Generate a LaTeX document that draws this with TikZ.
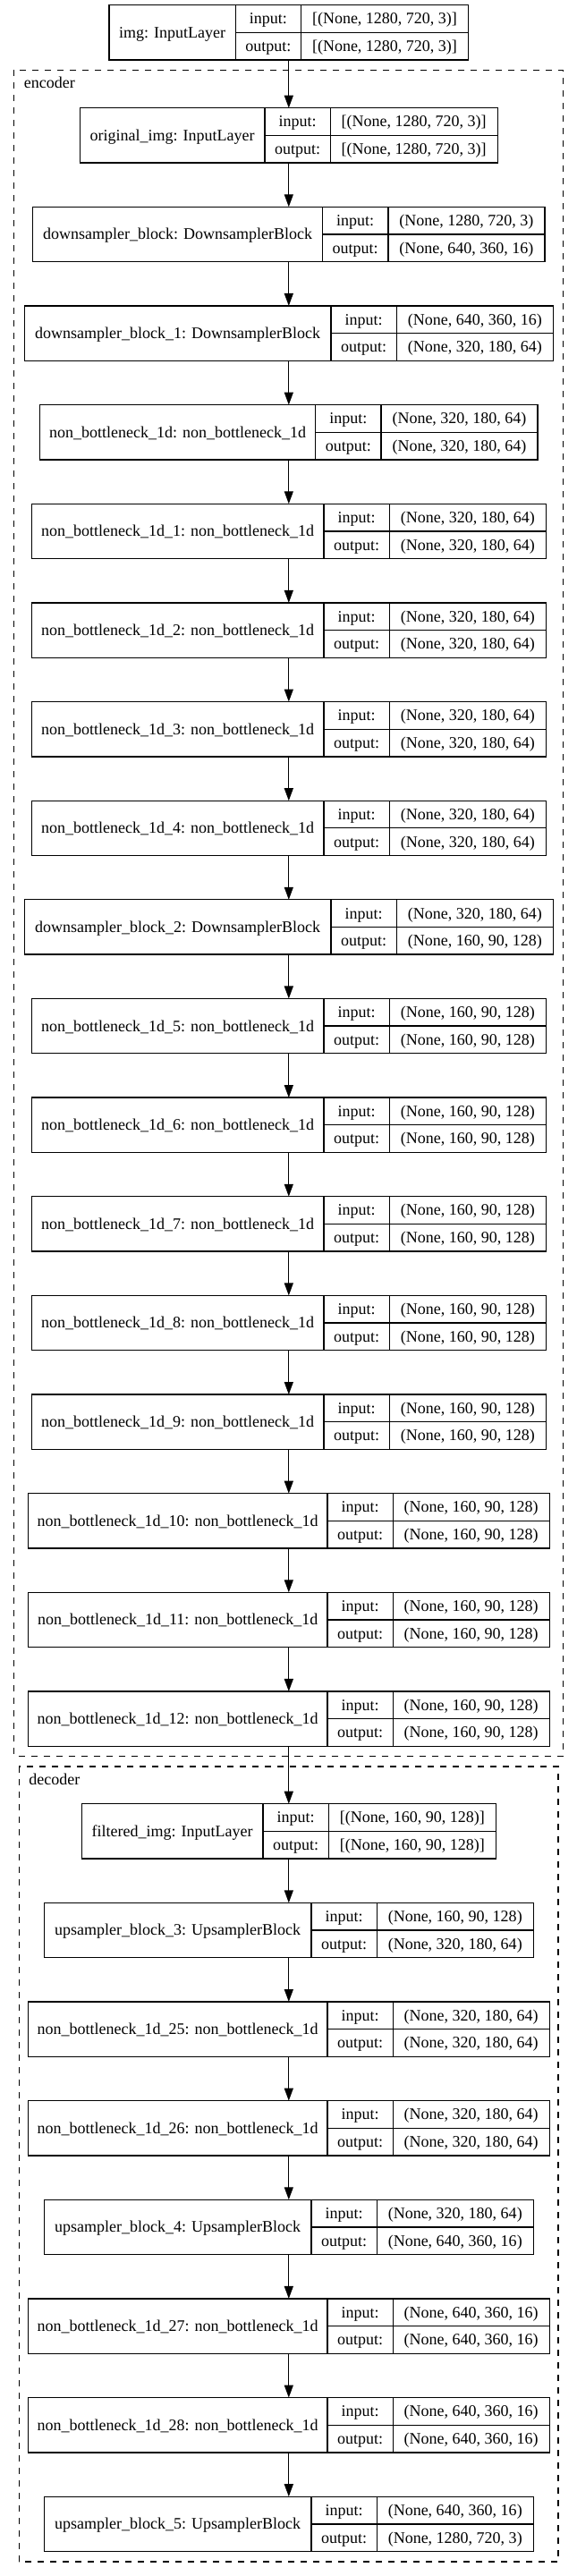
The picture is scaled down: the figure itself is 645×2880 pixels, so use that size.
\documentclass[tikz,border=0pt]{standalone}
\usepackage{fontspec}
\setmainfont{Liberation Serif}
\usetikzlibrary{arrows.meta}
\tikzset{
  lbox/.style={draw, line width=1.3pt, minimum height=61.3pt, inner sep=0pt, outer sep=0pt},
  lline/.style={line width=1.3pt},
  txt/.style={anchor=base, inner sep=0pt, outer sep=0pt},
  arr/.style={line width=1.3pt, -{Triangle[length=14pt,width=10pt]}},
  cluster/.style={line width=1.3pt, dash pattern=on 7pt off 7pt},
  clabel/.style={anchor=base west, inner sep=0pt}
}
% #1 id, #2 top (expression, downward px), #3 name width, #4 value width, #5 name, #6 input, #7 output
\newcommand\mklayer[7]{%
  \pgfmathsetmacro\Ty{-(#2)}%
  \pgfmathsetmacro\Lw{#3+73.3+#4}%
  \pgfmathsetmacro\Lx{322.8-\Lw/2}%
  \pgfmathsetmacro\Da{\Lx+#3}%
  \pgfmathsetmacro\Db{\Da+73.3}%
  \pgfmathsetmacro\Rx{\Lx+\Lw}%
  \pgfmathsetmacro\Tc{\Ty-30.65}%
  \pgfmathsetmacro\Bt{\Ty-61.3}%
  \node[lbox, minimum width=\Lw pt] (#1) at (322.8,\Tc) {};
  \draw[lline] (\Da,\Ty) -- (\Da,\Bt) (\Db,\Ty) -- (\Db,\Bt) (\Da,\Tc) -- (\Rx,\Tc);
  \node[txt] (#1-n) at ({\Lx+#3/2},{\Tc-5.9}) {#5};
  \node[txt] (#1-i) at ({(\Da+\Db)/2},{\Ty-15.33-5.9}) {input:};
  \node[txt] (#1-o) at ({(\Da+\Db)/2},{\Ty-45.98-5.9}) {output:};
  \node[txt] (#1-iv) at ({(\Db+\Rx)/2},{\Ty-15.33-5.9}) {#6};
  \node[txt] (#1-ov) at ({(\Db+\Rx)/2},{\Ty-45.98-5.9}) {#7};
}
\begin{document}
\begin{tikzpicture}[x=1pt, y=1pt, font=\fontsize{18}{21.6}\selectfont]
\useasboundingbox (0,0) rectangle (645,-2880);

% clusters
\coordinate (encTL) at (15.6,-78.3);
\coordinate (encBR) at (629.4,-1963.3);
\coordinate (decTL) at (21.4,-1975);
\coordinate (decBR) at (624,-2864);
\draw[cluster] (encTL) rectangle (encBR);
\draw[cluster] (decTL) rectangle (decBR);
\node[clabel] (enclabel) at (26.7,-98.3) {encoder};
\node[clabel] (declabel) at (32.1,-1995) {decoder};

% top input
\mklayer{img}{5.7}{141.1}{187}{img: InputLayer}{[(None, 1280, 720, 3)]}{[(None, 1280, 720, 3)]}

% encoder
\mklayer{orig}{120.7}{206.5}{187}{original\_img: InputLayer}{[(None, 1280, 720, 3)]}{[(None, 1280, 720, 3)]}
\mklayer{ds0}{120.7+1*110.64}{323.8}{175}{downsampler\_block: DownsamplerBlock}{(None, 1280, 720, 3)}{(None, 640, 360, 16)}
\mklayer{ds1}{120.7+2*110.64}{342.7}{175}{downsampler\_block\_1: DownsamplerBlock}{(None, 640, 360, 16)}{(None, 320, 180, 64)}
\mklayer{nb0}{120.7+3*110.64}{308.1}{175}{non\_bottleneck\_1d: non\_bottleneck\_1d}{(None, 320, 180, 64)}{(None, 320, 180, 64)}
\mklayer{nb1}{120.7+4*110.64}{326.6}{175}{non\_bottleneck\_1d\_1: non\_bottleneck\_1d}{(None, 320, 180, 64)}{(None, 320, 180, 64)}
\mklayer{nb2}{120.7+5*110.64}{326.6}{175}{non\_bottleneck\_1d\_2: non\_bottleneck\_1d}{(None, 320, 180, 64)}{(None, 320, 180, 64)}
\mklayer{nb3}{120.7+6*110.64}{326.6}{175}{non\_bottleneck\_1d\_3: non\_bottleneck\_1d}{(None, 320, 180, 64)}{(None, 320, 180, 64)}
\mklayer{nb4}{120.7+7*110.64}{326.6}{175}{non\_bottleneck\_1d\_4: non\_bottleneck\_1d}{(None, 320, 180, 64)}{(None, 320, 180, 64)}
\mklayer{ds2}{120.7+8*110.64}{342.7}{175}{downsampler\_block\_2: DownsamplerBlock}{(None, 320, 180, 64)}{(None, 160, 90, 128)}
\mklayer{nb5}{120.7+9*110.64}{326.6}{175}{non\_bottleneck\_1d\_5: non\_bottleneck\_1d}{(None, 160, 90, 128)}{(None, 160, 90, 128)}
\mklayer{nb6}{120.7+10*110.64}{326.6}{175}{non\_bottleneck\_1d\_6: non\_bottleneck\_1d}{(None, 160, 90, 128)}{(None, 160, 90, 128)}
\mklayer{nb7}{120.7+11*110.64}{326.6}{175}{non\_bottleneck\_1d\_7: non\_bottleneck\_1d}{(None, 160, 90, 128)}{(None, 160, 90, 128)}
\mklayer{nb8}{120.7+12*110.64}{326.6}{175}{non\_bottleneck\_1d\_8: non\_bottleneck\_1d}{(None, 160, 90, 128)}{(None, 160, 90, 128)}
\mklayer{nb9}{120.7+13*110.64}{326.6}{175}{non\_bottleneck\_1d\_9: non\_bottleneck\_1d}{(None, 160, 90, 128)}{(None, 160, 90, 128)}
\mklayer{nb10}{120.7+14*110.64}{334.4}{175}{non\_bottleneck\_1d\_10: non\_bottleneck\_1d}{(None, 160, 90, 128)}{(None, 160, 90, 128)}
\mklayer{nb11}{120.7+15*110.64}{334.4}{175}{non\_bottleneck\_1d\_11: non\_bottleneck\_1d}{(None, 160, 90, 128)}{(None, 160, 90, 128)}
\mklayer{nb12}{120.7+16*110.64}{334.4}{175}{non\_bottleneck\_1d\_12: non\_bottleneck\_1d}{(None, 160, 90, 128)}{(None, 160, 90, 128)}

% decoder
\mklayer{filt}{2016.7}{202.8}{187}{filtered\_img: InputLayer}{[(None, 160, 90, 128)]}{[(None, 160, 90, 128)]}
\mklayer{ub3}{2016.7+1*110.64}{298.6}{175}{upsampler\_block\_3: UpsamplerBlock}{(None, 160, 90, 128)}{(None, 320, 180, 64)}
\mklayer{nb25}{2016.7+2*110.64}{334.4}{175}{non\_bottleneck\_1d\_25: non\_bottleneck\_1d}{(None, 320, 180, 64)}{(None, 320, 180, 64)}
\mklayer{nb26}{2016.7+3*110.64}{334.4}{175}{non\_bottleneck\_1d\_26: non\_bottleneck\_1d}{(None, 320, 180, 64)}{(None, 320, 180, 64)}
\mklayer{ub4}{2016.7+4*110.64}{298.6}{175}{upsampler\_block\_4: UpsamplerBlock}{(None, 320, 180, 64)}{(None, 640, 360, 16)}
\mklayer{nb27}{2016.7+5*110.64}{334.4}{175}{non\_bottleneck\_1d\_27: non\_bottleneck\_1d}{(None, 640, 360, 16)}{(None, 640, 360, 16)}
\mklayer{nb28}{2016.7+6*110.64}{334.4}{175}{non\_bottleneck\_1d\_28: non\_bottleneck\_1d}{(None, 640, 360, 16)}{(None, 640, 360, 16)}
\mklayer{ub5}{2016.7+7*110.64}{298.6}{175}{upsampler\_block\_5: UpsamplerBlock}{(None, 640, 360, 16)}{(None, 1280, 720, 3)}

% connectors
\foreach \a/\b in {img/orig, orig/ds0, ds0/ds1, ds1/nb0, nb0/nb1, nb1/nb2, nb2/nb3, nb3/nb4, nb4/ds2,
  ds2/nb5, nb5/nb6, nb6/nb7, nb7/nb8, nb8/nb9, nb9/nb10, nb10/nb11, nb11/nb12, nb12/filt,
  filt/ub3, ub3/nb25, nb25/nb26, nb26/ub4, ub4/nb27, nb27/nb28, nb28/ub5}
  \draw[arr] (\a.south) -- (\b.north);
\end{tikzpicture}
\end{document}
